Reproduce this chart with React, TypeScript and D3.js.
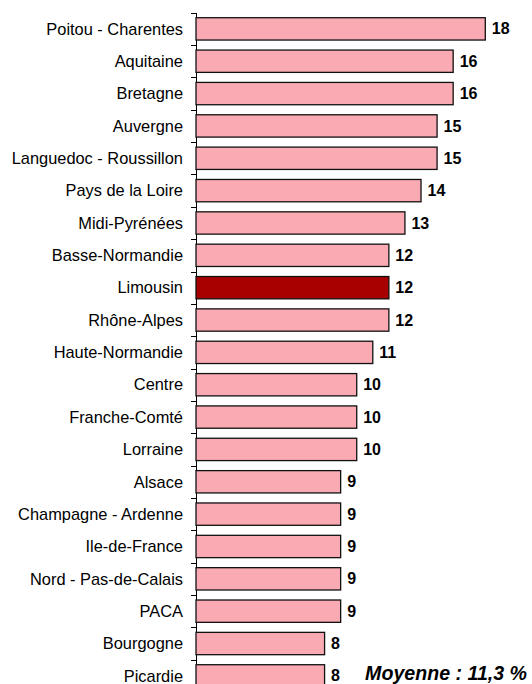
import React, { useEffect, useRef } from "react";
import * as d3 from "d3";

const regions = [
  "Poitou - Charentes",
  "Aquitaine",
  "Bretagne",
  "Auvergne",
  "Languedoc - Roussillon",
  "Pays de la Loire",
  "Midi-Pyrénées",
  "Basse-Normandie",
  "Limousin",
  "Rhône-Alpes",
  "Haute-Normandie",
  "Centre",
  "Franche-Comté",
  "Lorraine",
  "Alsace",
  "Champagne - Ardenne",
  "Ile-de-France",
  "Nord - Pas-de-Calais",
  "PACA",
  "Bourgogne",
  "Picardie",
];
const values = [18, 16, 16, 15, 15, 14, 13, 12, 12, 12, 11, 10, 10, 10, 9, 9, 9, 9, 9, 8, 8];
const highlight = "Limousin";
const meanLabel = "Moyenne : 11,3 %";

const W = 532;
const H = 684;
const FONT = "Liberation Sans, Arial, sans-serif";

export default function App() {
  const svgRef = useRef<SVGSVGElement | null>(null);

  useEffect(() => {
    const svg = d3.select(svgRef.current);
    svg.selectAll("*").remove();

    const x = d3.scaleLinear().domain([0, 18]).range([196, 485.3]);
    const y = d3
      .scaleBand<string>()
      .domain(regions)
      .range([12.7, 12.7 + 32.35 * regions.length])
      .paddingInner(0.31)
      .paddingOuter(0.155);

    const step = y.step();
    const top = y.range()[0];

    // axis line + ticks between categories
    const g = svg.append("g").attr("shape-rendering", "crispEdges");
    g.append("line")
      .attr("x1", 196).attr("x2", 196)
      .attr("y1", top).attr("y2", H)
      .attr("stroke", "#000");
    g.selectAll("line.tick")
      .data(d3.range(regions.length + 1))
      .join("line")
      .attr("class", "tick")
      .attr("x1", 191).attr("x2", 196)
      .attr("y1", (i) => Math.round(top + i * step))
      .attr("y2", (i) => Math.round(top + i * step))
      .attr("stroke", "#000");

    const data = regions.map((r, i) => ({ r, v: values[i] }));

    svg.append("g")
      .selectAll("rect")
      .data(data)
      .join("rect")
      .attr("x", x(0))
      .attr("y", (d) => y(d.r)!)
      .attr("width", (d) => x(d.v) - x(0))
      .attr("height", y.bandwidth())
      .attr("fill", (d) => (d.r === highlight ? "#A80000" : "#F9AAB3"))
      .attr("stroke", "#111")
      .attr("stroke-width", 1.3);

    svg.append("g")
      .selectAll("text")
      .data(data)
      .join("text")
      .attr("x", 183)
      .attr("y", (d) => y(d.r)! + y.bandwidth() / 2)
      .attr("dy", "0.35em")
      .attr("text-anchor", "end")
      .attr("font-family", FONT)
      .attr("font-size", 16.4)
      .attr("fill", "#000")
      .text((d) => d.r);

    svg.append("g")
      .selectAll("text")
      .data(data)
      .join("text")
      .attr("x", (d) => x(d.v) + 6.5)
      .attr("y", (d) => y(d.r)! + y.bandwidth() / 2)
      .attr("dy", "0.35em")
      .attr("font-family", FONT)
      .attr("font-size", 16)
      .attr("font-weight", "bold")
      .attr("fill", "#000")
      .text((d) => d.v);

    svg.append("text")
      .attr("x", 527)
      .attr("y", y("Picardie")! + y.bandwidth() / 2 - 2.5)
      .attr("dy", "0.35em")
      .attr("text-anchor", "end")
      .attr("font-family", FONT)
      .attr("font-size", 19.6)
      .attr("font-weight", "bold")
      .attr("font-style", "italic")
      .attr("fill", "#000")
      .text(meanLabel);
  }, []);

  return (
    <svg
      ref={svgRef}
      width={W}
      height={H}
      style={{ position: "absolute", left: 0, top: 0, background: "#fff" }}
    />
  );
}
